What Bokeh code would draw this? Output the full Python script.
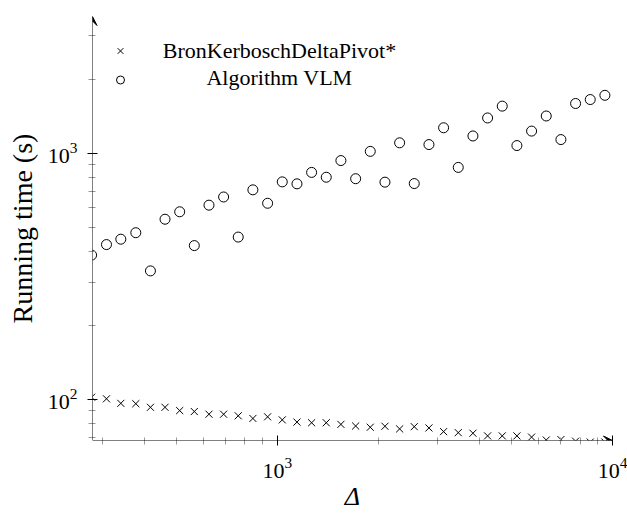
from bokeh.plotting import figure
from bokeh.models import (Range1d, FixedTicker, Legend, LegendItem, Label, Arrow,
                          VeeHead, ColumnDataSource, LogTickFormatter)
from bokeh.embed import file_html
from bokeh.resources import INLINE

# ---- data ----
delta = [279, 309, 341, 378, 418, 462, 511, 565, 625, 691, 764, 845, 935, 1034,
         1144, 1265, 1399, 1547, 1712, 1893, 2094, 2316, 2561, 2833, 3133, 3465,
         3833, 4239, 4688, 5185, 5735, 6343, 7015, 7760, 8582, 9491]
bkdp_time = [102.1, 100.6, 96.4, 96.1, 92.9, 92.9, 90.1, 89.3, 87.1, 87.1, 85.8,
             83.7, 85.0, 82.6, 80.9, 80.4, 80.4, 79.2, 78.0, 77.1, 77.8, 75.9,
             77.5, 76.6, 74.0, 73.3, 72.9, 71.1, 71.1, 71.1, 70.3, 68.4, 68.7,
             67.7, 67.1, 67.1]
vlm_time = [386, 426, 448, 476, 333, 540, 579, 422, 616, 665, 457, 711, 627, 766,
            752, 837, 800, 935, 789, 1019, 764, 1104, 754, 1086, 1271, 877, 1177,
            1393, 1556, 1076, 1232, 1419, 1138, 1595, 1655, 1722]
series_names = ["BronKerboschDeltaPivot*", "Algorithm VLM"]
x_label = "\u0394"
y_label = "Running time (s)"

x_major = [1000, 10000]
x_minor = [300, 400, 500, 600, 700, 800, 900, 2000, 3000, 4000, 5000, 6000,
           7000, 8000, 9000]
y_major = [100, 1000]
y_minor = [70, 80, 90, 200, 300, 400, 500, 600, 700, 800, 900, 2000, 3000]
x_lo, x_hi = 280.7, 10000
y_lo, y_hi = 68.1, 3600

FONT = "Liberation Serif"

src = ColumnDataSource(dict(delta=delta, bkdp=bkdp_time, vlm=vlm_time))

p = figure(width=627, height=513, x_axis_type="log", y_axis_type="log",
           x_range=Range1d(x_lo, x_hi), y_range=Range1d(y_lo, y_hi),
           output_backend="svg", toolbar_location=None,
           min_border_left=92, min_border_right=15, min_border_top=16,
           min_border_bottom=66)
p.outline_line_color = None
p.xgrid.visible = False
p.ygrid.visible = False
p.background_fill_color = "white"
p.border_fill_color = "white"

r_x = p.scatter("delta", "bkdp", source=src, marker="x", size=10,
                line_color="black", line_width=1)
r_o = p.scatter("delta", "vlm", source=src, marker="circle", size=10,
                fill_color=None, line_color="black", line_width=1)

for ax, major, minor in ((p.xaxis[0], x_major, x_minor), (p.yaxis[0], y_major, y_minor)):
    ax.ticker = FixedTicker(ticks=major, minor_ticks=minor)
    ax.formatter = LogTickFormatter()
    ax.axis_line_color = None
    ax.major_tick_line_color = "black"
    ax.minor_tick_line_color = "#999999"
    ax.major_tick_in = 5
    ax.major_tick_out = 5
    ax.minor_tick_in = 3
    ax.minor_tick_out = 4
    ax.major_label_text_font = FONT
    ax.major_label_text_font_size = "22px"
    ax.major_label_text_color = "black"
    ax.axis_label_text_font = FONT
    ax.axis_label_text_color = "black"
    ax.axis_label_text_font_style = "normal"

p.xaxis.axis_label = x_label
p.xaxis.axis_label_text_font_size = "26px"
p.xaxis.axis_label_text_font_style = "italic"
p.xaxis.major_label_standoff = 12
p.xaxis.axis_label_standoff = 1
p.yaxis.axis_label = y_label
p.yaxis.axis_label_text_font_size = "28px"
p.yaxis.major_label_standoff = 10
p.yaxis.axis_label_standoff = 7

# axis lines with arrow heads
p.add_layout(Arrow(end=VeeHead(size=9, fill_color="black", line_color="black"),
                   x_start=x_lo, y_start=y_lo, x_end=x_hi, y_end=y_lo,
                   line_color="black", line_width=1))
p.add_layout(Arrow(end=VeeHead(size=9, fill_color="black", line_color="black"),
                   x_start=x_lo, y_start=y_lo, x_end=x_lo, y_end=y_hi,
                   line_color="black", line_width=1))

# legend: markers from Bokeh legend, centered texts as labels
legend = Legend(items=[LegendItem(label="", renderers=[r_x]),
                       LegendItem(label="", renderers=[r_o])],
                location=(18, 350), padding=0, margin=0, spacing=8,
                glyph_width=20, glyph_height=21, label_height=21,
                label_width=0, label_standoff=0,
                border_line_color=None, background_fill_alpha=0)
p.add_layout(legend)

for txt, yy in ((series_names[0], 390), (series_names[1], 363)):
    p.add_layout(Label(x=187, y=yy, x_units="screen", y_units="screen", text=txt,
                       text_align="center", text_baseline="alphabetic",
                       text_font=FONT, text_font_size="22px", text_color="black"))

open("out.html", "w").write(file_html(p, INLINE))
